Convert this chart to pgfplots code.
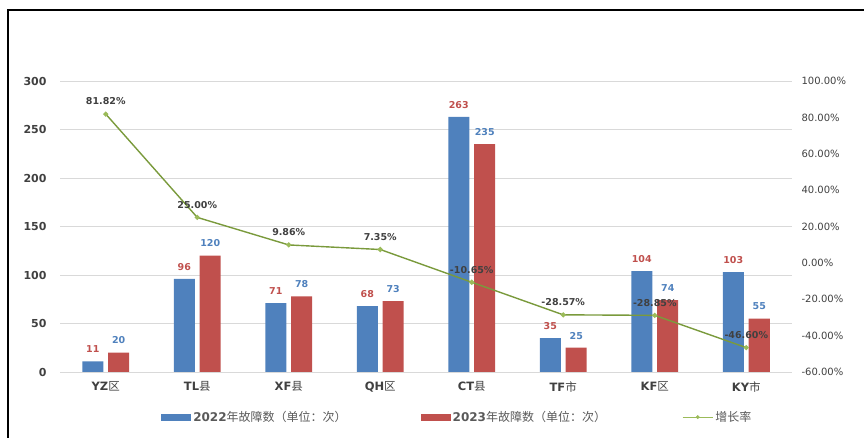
\documentclass[border=0pt]{standalone}
\usepackage{fontspec}
\setmainfont{DejaVu Sans}
\newfontfamily\cjk{Noto Sans CJK SC}
\usepackage{pgfplots}
\pgfplotsset{compat=1.18}
\definecolor{cblue}{HTML}{4F81BD}
\definecolor{cred}{HTML}{C0504D}
\definecolor{cgreen}{HTML}{7A9A3C}
\definecolor{cgreenm}{HTML}{9BBB59}
\definecolor{cgrid}{HTML}{D9D9D9}
\definecolor{ctext}{HTML}{404040}
\definecolor{clight}{HTML}{595959}
\begin{document}
\begin{tikzpicture}[x=1pt,y=1pt]
\useasboundingbox (0,0) rectangle (864,438);
\draw[black, line width=1.2pt] (8,0) -- (8,428) -- (864,428);
\begin{axis}[
  at={(60pt,66pt)}, anchor=south west, scale only axis,
  width=732pt, height=291pt,
  xmin=-0.5, xmax=7.5, ymin=0, ymax=300,
  ytick={0,50,...,300},
  xtick={0,...,7},
  xticklabels={{\bfseries YZ}{\cjk 区},{\bfseries TL}{\cjk 县},{\bfseries XF}{\cjk 县},{\bfseries QH}{\cjk 区},{\bfseries CT}{\cjk 县},{\bfseries TF}{\cjk 市},{\bfseries KF}{\cjk 区},{\bfseries KY}{\cjk 市}},
  axis line style={draw=none}, major tick length=0pt,
  ymajorgrids, grid style={cgrid, line width=0.9pt},
  /pgf/number format/assume math mode=true,
  scaled y ticks=false,
  yticklabel style={anchor=east, xshift=-10pt, font=\bfseries\fontsize{11}{12}\selectfont, text=ctext},
  xticklabel style={yshift=-6pt, font=\fontsize{11.5}{12}\selectfont, text=ctext},
  legend columns=3,
  legend style={at={(0.134,-0.155)}, anchor=west, draw=none, fill=none,
    font=\fontsize{12}{13}\selectfont, text=clight,
    /tikz/column 2/.style={column sep=72pt},
    /tikz/column 4/.style={column sep=74pt}},
  legend cell align=left,
]
\addplot[ybar, bar width=21pt, bar shift=0pt, fill=cblue, draw=none,
  x filter/.expression={x-0.142},
  nodes near coords,
  every node near coord/.append style={text=cred, font=\bfseries\fontsize{9.5}{10}\selectfont, yshift=5pt},
  legend image code/.code={\fill[cblue] (0pt,-3.5pt) rectangle (30pt,3.5pt);}]
  coordinates {(0,11) (1,96) (2,71) (3,68) (4,263) (5,35) (6,104) (7,103)};
\addlegendentry{{\bfseries 2022}{\cjk 年故障数（单位：次）}}
\addplot[ybar, bar width=21pt, bar shift=0pt, fill=cred, draw=none,
  x filter/.expression={x+0.142},
  nodes near coords,
  every node near coord/.append style={text=cblue, font=\bfseries\fontsize{9.5}{10}\selectfont, yshift=5pt},
  legend image code/.code={\fill[cred] (0pt,-3.5pt) rectangle (30pt,3.5pt);}]
  coordinates {(0,20) (1,120) (2,78) (3,73) (4,235) (5,25) (6,74) (7,55)};
\addlegendentry{{\bfseries 2023}{\cjk 年故障数（单位：次）}}
\addlegendimage{legend image code/.code={\draw[cgreenm, line width=1.2pt] (0pt,0pt) -- (30pt,0pt); \fill[cgreenm] (15pt,0pt) circle (1.7pt);}}
\addlegendentry{{\cjk 增长率}}
\end{axis}
\begin{axis}[
  at={(60pt,66pt)}, anchor=south west, scale only axis,
  width=732pt, height=291pt,
  xmin=-0.5, xmax=7.5, ymin=-60, ymax=100,
  ytick={-60,-40,...,100},
  axis y line*=right, axis x line=none,
  axis line style={draw=none}, major tick length=0pt,
  scaled y ticks=false,
  /pgf/number format/assume math mode=true,
  yticklabel={\pgfmathprintnumber[fixed,fixed zerofill,precision=2]{\tick}\%},
  yticklabel style={anchor=west, xshift=6pt, font=\fontsize{10}{12}\selectfont, text=ctext},
]
\addplot[cgreen, line width=1.4pt, mark=*, mark size=1.8pt,
  mark options={fill=cgreenm, draw=cgreenm},
  point meta=y,
  nodes near coords={\pgfmathprintnumber[fixed,fixed zerofill,precision=2]{\pgfplotspointmeta}\%},
  every node near coord/.append style={anchor=south, text=ctext, font=\bfseries\fontsize{9.5}{10}\selectfont, yshift=5pt}]
  coordinates {(0,81.82) (1,25.00) (2,9.86) (3,7.35) (4,-10.65) (5,-28.57) (6,-28.85) (7,-46.60)};
\end{axis}
\end{tikzpicture}
\end{document}
